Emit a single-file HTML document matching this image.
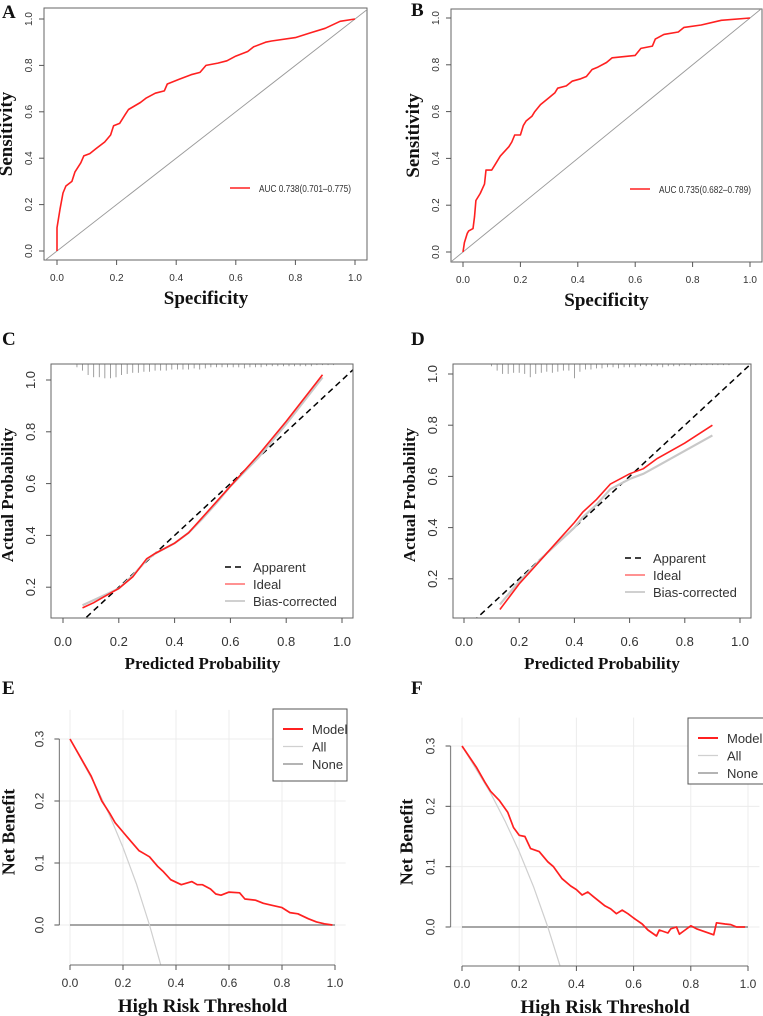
<!DOCTYPE html>
<html><head><meta charset="utf-8">
<style>
html,body{margin:0;padding:0;background:#fff;}
svg{display:block;}
.tick{font-family:"Liberation Sans",sans-serif;fill:#333;}
.ttl{font-family:"Liberation Serif",serif;font-weight:bold;fill:#111;}
.lbl{font-family:"Liberation Serif",serif;font-weight:bold;fill:#111;font-size:19px;}
</style></head>
<body>
<svg id="fig" width="763" height="1016" viewBox="0 0 763 1016" xmlns="http://www.w3.org/2000/svg">
<text class="lbl" x="2" y="18">A</text>
<text class="lbl" x="411" y="16">B</text>
<text class="lbl" x="2" y="345">C</text>
<text class="lbl" x="411" y="345">D</text>
<text class="lbl" x="2" y="694">E</text>
<text class="lbl" x="411" y="694">F</text>
</svg>
<script>
// ---------- DATA ----------
const rocA_x=[0,0,0.01,0.02,0.03,0.05,0.06,0.08,0.09,0.11,0.13,0.16,0.18,0.19,0.21,0.23,0.24,0.28,0.3,0.33,0.36,0.37,0.41,0.45,0.48,0.5,0.54,0.57,0.6,0.64,0.66,0.7,0.72,0.8,0.85,0.9,0.95,1];
const rocA_y=[0,0.1,0.18,0.25,0.28,0.3,0.34,0.38,0.41,0.42,0.44,0.47,0.5,0.54,0.55,0.59,0.61,0.64,0.66,0.68,0.69,0.72,0.74,0.76,0.77,0.8,0.81,0.82,0.84,0.86,0.88,0.9,0.905,0.92,0.94,0.96,0.99,1];
const rocB_x=[0,0.005,0.015,0.02,0.035,0.04,0.045,0.06,0.075,0.08,0.1,0.11,0.13,0.16,0.17,0.18,0.2,0.21,0.22,0.24,0.25,0.27,0.3,0.32,0.33,0.36,0.38,0.41,0.43,0.45,0.47,0.5,0.52,0.6,0.62,0.66,0.67,0.7,0.75,0.77,0.83,0.9,1];
const rocB_y=[0,0.04,0.08,0.09,0.1,0.15,0.22,0.25,0.29,0.35,0.35,0.37,0.41,0.45,0.47,0.5,0.5,0.54,0.56,0.58,0.6,0.63,0.66,0.68,0.7,0.71,0.73,0.74,0.75,0.78,0.79,0.81,0.83,0.84,0.87,0.88,0.91,0.93,0.94,0.96,0.97,0.99,1];
const aucA="AUC 0.738(0.701–0.775)";
const aucB="AUC 0.735(0.682–0.789)";
const calC_x=[0.07,0.11,0.15,0.2,0.25,0.3,0.33,0.4,0.45,0.5,0.55,0.6,0.7,0.8,0.93];
const calC_ideal=[0.12,0.14,0.165,0.195,0.24,0.31,0.33,0.37,0.41,0.47,0.53,0.59,0.71,0.84,1.02];
const calC_bias=[0.13,0.15,0.17,0.195,0.245,0.305,0.33,0.37,0.41,0.465,0.525,0.59,0.7,0.83,1.01];
const rugC_p=[0.05,0.07,0.09,0.11,0.13,0.15,0.17,0.19,0.21,0.23,0.25,0.27,0.29,0.31,0.33,0.35,0.37,0.39,0.41,0.43,0.45,0.47,0.49,0.51,0.53,0.55,0.57,0.59,0.61,0.63,0.65,0.67,0.69,0.71,0.73,0.75,0.77,0.79,0.81,0.83,0.85,0.87,0.89,0.91,0.93,0.95,0.97];
const rugC_n=[3,6,10,12,12,13,13,12,10,9,8,8,7,7,6,6,6,5,5,5,5,4,5,4,3,3,3,3,3,3,4,3,3,3,2,2,2,2,2,2,2,2,2,1,1,1,1];
const calD_x=[0.13,0.2,0.25,0.3,0.35,0.4,0.43,0.48,0.53,0.6,0.65,0.7,0.8,0.9];
const calD_ideal=[0.08,0.18,0.24,0.3,0.36,0.42,0.46,0.51,0.57,0.61,0.63,0.67,0.73,0.8];
const calD_bias=[0.1,0.19,0.245,0.3,0.35,0.4,0.44,0.49,0.55,0.59,0.61,0.64,0.7,0.76];
const rugD_p=[0.1,0.12,0.14,0.16,0.18,0.2,0.22,0.24,0.26,0.28,0.3,0.32,0.34,0.36,0.38,0.4,0.42,0.44,0.46,0.48,0.5,0.52,0.54,0.56,0.58,0.6,0.62,0.64,0.66,0.68,0.7,0.72,0.74,0.76,0.78,0.8,0.82,0.84,0.86,0.88,0.9,0.92,0.94,0.96];
const rugD_n=[2,6,9,9,8,8,9,12,9,8,7,8,7,6,6,13,7,5,5,4,4,3,3,4,3,3,3,2,2,2,2,3,2,2,2,1,2,1,1,1,1,1,1,1];
const dcaE_t=[0,0.04,0.08,0.1,0.12,0.15,0.17,0.2,0.23,0.26,0.28,0.3,0.33,0.35,0.38,0.42,0.46,0.48,0.5,0.53,0.55,0.57,0.6,0.64,0.66,0.7,0.73,0.76,0.8,0.83,0.86,0.9,0.93,0.96,0.99];
const dcaE_model=[0.3,0.27,0.24,0.22,0.2,0.18,0.165,0.15,0.135,0.12,0.115,0.11,0.095,0.087,0.073,0.065,0.07,0.065,0.065,0.058,0.05,0.048,0.053,0.052,0.042,0.04,0.035,0.032,0.028,0.02,0.018,0.01,0.005,0.002,0];
const dcaF_t=[0,0.05,0.08,0.1,0.13,0.16,0.18,0.2,0.22,0.24,0.27,0.3,0.32,0.35,0.38,0.4,0.42,0.44,0.46,0.5,0.52,0.54,0.56,0.58,0.6,0.63,0.65,0.68,0.69,0.72,0.73,0.75,0.76,0.78,0.8,0.82,0.85,0.88,0.89,0.92,0.94,0.96,0.99];
const dcaF_model=[0.3,0.265,0.24,0.225,0.21,0.19,0.165,0.152,0.15,0.13,0.125,0.108,0.1,0.08,0.068,0.062,0.053,0.058,0.05,0.035,0.03,0.022,0.028,0.022,0.015,0.005,-0.005,-0.015,-0.005,-0.01,-0.003,0,-0.012,-0.005,0.002,-0.003,-0.008,-0.013,0.007,0.005,0.004,0,0];
const dcaAll_t=[0,0.1,0.15,0.2,0.25,0.3,0.345];
const dcaAll_nb=[0.3,0.222,0.176,0.125,0.067,0,-0.068];
const unitTicks=[0,0.2,0.4,0.6,0.8,1.0];
const calYTicks=[0.2,0.4,0.6,0.8,1.0];
const nbTicks=[0,0.1,0.2,0.3];

// ---------- HELPERS ----------
const NS="http://www.w3.org/2000/svg";
const fig=document.getElementById('fig');
function mk(tag,attrs,parent){const e=document.createElementNS(NS,tag);for(const k in attrs)e.setAttribute(k,attrs[k]);(parent||fig).appendChild(e);return e;}
function scale(d0,d1,r0,r1){return v=>r0+(v-d0)*(r1-r0)/(d1-d0);}
function pts(xs,ys,sx,sy){return xs.map((x,i)=>sx(x).toFixed(1)+','+sy(ys[i]).toFixed(1)).join(' ');}
function fmt(v){return v.toFixed(1);}

function xTicks(g,sx,ticks,yAxis,ylab,fs,name){
  for(const t of ticks){
    const l=mk('line',{x1:sx(t),x2:sx(t),y1:yAxis,y2:yAxis+5,stroke:'#555','stroke-width':1},g);
    
    
    const tx=mk('text',{x:sx(t),y:ylab,'text-anchor':'middle',class:'tick','font-size':fs},g);
    tx.textContent=fmt(t);
    
    
  }
}
function yTicks(g,sy,ticks,xAxis,xlab,fs,name){
  for(const t of ticks){
    const l=mk('line',{x1:xAxis-5,x2:xAxis,y1:sy(t),y2:sy(t),stroke:'#555','stroke-width':1},g);
    
    
    const tx=mk('text',{x:xlab,y:sy(t),'text-anchor':'middle',class:'tick','font-size':fs,transform:`rotate(-90 ${xlab} ${sy(t)})`},g);
    tx.textContent=fmt(t);
    
    
  }
}
function title(g,txt,x,y,fs,rot,name){
  const t=mk('text',{x:x,y:y,'text-anchor':'middle',class:'ttl','font-size':fs},g);
  if(rot)t.setAttribute('transform',`rotate(-90 ${x} ${y})`);
  t.textContent=txt;
  
  
}

// ---------- ROC ----------
function roc(o){
  const g=mk('g',{});
  
  
  const sx=scale(0,1,o.x0,o.x1), sy=scale(0,1,o.y0,o.y1);
  const box=mk('rect',{x:o.bl,y:o.bt,width:o.br-o.bl,height:o.bb-o.bt,fill:'none',stroke:'#666','stroke-width':1},g);
  
  
  const cp='clip-'+o.name;
  const c=mk('clipPath',{id:cp},g);mk('rect',{x:o.bl,y:o.bt,width:o.br-o.bl,height:o.bb-o.bt},c);
  const d=mk('line',{x1:sx(-0.05),y1:sy(-0.05),x2:sx(1.05),y2:sy(1.05),stroke:'#999','stroke-width':0.9,'clip-path':`url(#${cp})`},g);
  
  
  const p=mk('polyline',{points:pts(o.xs,o.ys,sx,sy),fill:'none',stroke:'#ff2020','stroke-width':1.6,'stroke-linejoin':'round'},g);
  
  
  xTicks(g,sx,unitTicks,o.bb,o.bb+21,10,'x-axis');
  yTicks(g,sy,unitTicks,o.bl,o.bl-12,10,'y-axis');
  title(g,'Specificity',(o.x0+o.x1)/2,o.bb+44,19,false,'x-axis-title');
  title(g,'Sensitivity',o.bl-32,(o.bt+o.bb)/2,19,true,'y-axis-title');
  const ll=mk('line',{x1:o.lx,x2:o.lx+20,y1:o.ly,y2:o.ly,stroke:'#ff2020','stroke-width':1.6},g);
  
  
  const lt=mk('text',{x:o.lx+29,y:o.ly+4,class:'tick','font-size':10,textLength:92,lengthAdjust:'spacingAndGlyphs'},g);
  lt.textContent=o.auc;
  
  
}
roc({name:'roc-a',xs:rocA_x,ys:rocA_y,auc:aucA,x0:57,x1:355,y0:251,y1:19,bl:44,br:367,bt:8,bb:260,lx:230,ly:188});
roc({name:'roc-b',xs:rocB_x,ys:rocB_y,auc:aucB,x0:463,x1:750,y0:252,y1:18,bl:451,br:762,bt:9,bb:262,lx:630,ly:189});

// ---------- CALIBRATION ----------
function cal(o){
  const g=mk('g',{});
  
  
  const sx=scale(0,1,o.x0,o.x1), sy=scale(0,1,o.y0,o.y1);
  const cp='clip-'+o.name;
  const c=mk('clipPath',{id:cp},g);mk('rect',{x:o.bl,y:o.bt,width:o.br-o.bl,height:o.bb-o.bt},c);
  o.rp.forEach((p,i)=>{
    const r=mk('line',{x1:sx(p),x2:sx(p),y1:o.bt,y2:o.bt+o.rn[i]*1.1,stroke:'#888','stroke-width':0.8},g);
    
    
  });
  const ap=mk('line',{x1:sx(-0.1),y1:sy(-0.1),x2:sx(1.1),y2:sy(1.1),stroke:'#000','stroke-width':1.5,'stroke-dasharray':'6,4','clip-path':`url(#${cp})`},g);
  
  
  const b=mk('polyline',{points:pts(o.xs,o.bias,sx,sy),fill:'none',stroke:'#c8c8c8','stroke-width':2.2},g);
  
  
  const id=mk('polyline',{points:pts(o.xs,o.ideal,sx,sy),fill:'none',stroke:'#ff2020','stroke-width':1.6},g);
  
  
  const box=mk('rect',{x:o.bl,y:o.bt,width:o.br-o.bl,height:o.bb-o.bt,fill:'none',stroke:'#666','stroke-width':1},g);
  
  
  xTicks(g,sx,unitTicks,o.bb,o.bb+28,13,'x-axis');
  yTicks(g,sy,calYTicks,o.bl,o.bl-16,13,'y-axis');
  title(g,'Predicted Probability',(o.x0+o.x1)/2,o.bb+51,17,false,'x-axis-title');
  title(g,'Actual Probability',o.bl-38,(o.bt+o.bb)/2+4,17,true,'y-axis-title');
  const items=[['Apparent','#000','6,4',1.5],['Ideal','#ff5050','',1.2],['Bias-corrected','#d0d0d0','',2]];
  items.forEach((it,i)=>{
    const y=o.ly+i*17;
    const l=mk('line',{x1:o.lx,x2:o.lx+20,y1:y,y2:y,stroke:it[1],'stroke-width':it[3]},g);
    if(it[2])l.setAttribute('stroke-dasharray',it[2]);
    
    
    const t=mk('text',{x:o.lx+28,y:y+5,class:'tick','font-size':13},g);
    t.textContent=it[0];
    
    
  });
}
cal({name:'calibration-c',xs:calC_x,ideal:calC_ideal,bias:calC_bias,rp:rugC_p,rn:rugC_n,x0:63,x1:342,y0:639,y1:380,bl:51,br:353,bt:364,bb:618,lx:225,ly:567});
cal({name:'calibration-d',xs:calD_x,ideal:calD_ideal,bias:calD_bias,rp:rugD_p,rn:rugD_n,x0:464,x1:740,y0:630,y1:374,bl:453,br:751,bt:364,bb:618,lx:625,ly:558});

// ---------- DCA ----------
function dca(o){
  const g=mk('g',{});
  
  
  const sx=scale(0,1,o.x0,o.x1), sy=scale(0,0.3,o.y0,o.y3);
  const L=sx(-0.04),R=sx(1.04),T=sy(0.347),B=sy(-0.064);
  const cp='clip-'+o.name;
  const c=mk('clipPath',{id:cp},g);mk('rect',{x:L,y:T,width:R-L,height:B-T},c);
  unitTicks.forEach(t=>{const l=mk('line',{x1:sx(t),x2:sx(t),y1:T,y2:B,stroke:'#ececec','stroke-width':1},g);
    
    });
  nbTicks.forEach(t=>{const l=mk('line',{x1:L,x2:R,y1:sy(t),y2:sy(t),stroke:'#ececec','stroke-width':1},g);
    
    });
  const none=mk('line',{x1:sx(0),x2:sx(1),y1:sy(0),y2:sy(0),stroke:'#888','stroke-width':1.4},g);
  
  
  const all=mk('polyline',{points:pts(dcaAll_t,dcaAll_nb,sx,sy),fill:'none',stroke:'#cfcfcf','stroke-width':1.2,'clip-path':`url(#${cp})`},g);
  
  
  const m=mk('polyline',{points:pts(o.ts,o.nb,sx,sy),fill:'none',stroke:'#ff2020','stroke-width':1.7,'stroke-linejoin':'round'},g);
  
  
  const xa=mk('line',{x1:sx(0),x2:sx(1),y1:o.xaxis,y2:o.xaxis,stroke:'#888','stroke-width':1.2},g);
  
  
  const ya=mk('line',{x1:L,x2:L,y1:sy(0),y2:sy(0.3),stroke:'#888','stroke-width':1.2},g);
  
  
  xTicks(g,sx,unitTicks,o.xaxis,o.xaxis+22,12,'x-axis');
  yTicks(g,sy,nbTicks,L,L-16,12,'y-axis');
  title(g,'High Risk Threshold',(o.x0+o.x1)/2,o.xaxis+47,19,false,'x-axis-title');
  title(g,'Net Benefit',L-o.tdx,o.ty,18,true,'y-axis-title');
  const lb=mk('rect',{x:o.lbx,y:o.lby,width:o.lbw,height:o.lbh,fill:'#fff',stroke:'#555','stroke-width':1},g);
  
  
  [['Model','#ff2020',2],['All','#d0d0d0',1.2],['None','#888',1.2]].forEach((it,i)=>{
    const y=o.lby+20+i*17.5;
    const l=mk('line',{x1:o.lbx+10,x2:o.lbx+30,y1:y,y2:y,stroke:it[1],'stroke-width':it[2]},g);
    
    
    const t=mk('text',{x:o.lbx+39,y:y+5,class:'tick','font-size':13},g);
    t.textContent=it[0];
    
    
  });
}
dca({name:'dca-e',ts:dcaE_t,nb:dcaE_model,x0:70,x1:335,y0:925,y3:739,xaxis:965,ty:832,tdx:45,lbx:273,lby:709,lbw:74,lbh:72});
dca({name:'dca-f',ts:dcaF_t,nb:dcaF_model,x0:462,x1:748,y0:927,y3:746,xaxis:966,ty:842,tdx:38,lbx:688,lby:718,lbw:80,lbh:66});
</script>
</body></html>
